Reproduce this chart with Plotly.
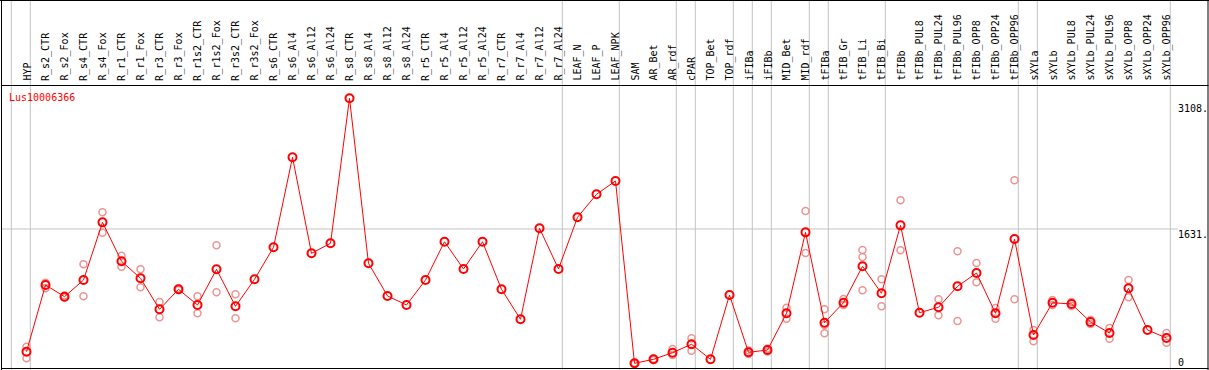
import plotly.graph_objects as go

gene_id = "Lus10006366"

categories = [
    "HYP", "R_s2_CTR", "R_s2_Fox", "R_s4_CTR", "R_s4_Fox", "R_r1_CTR", "R_r1_Fox",
    "R_r3_CTR", "R_r3_Fox", "R_r1s2_CTR", "R_r1s2_Fox", "R_r3s2_CTR", "R_r3s2_Fox",
    "R_s6_CTR", "R_s6_Al4", "R_s6_Al12", "R_s6_Al24", "R_s8_CTR", "R_s8_Al4",
    "R_s8_Al12", "R_s8_Al24", "R_r5_CTR", "R_r5_Al4", "R_r5_Al12", "R_r5_Al24",
    "R_r7_CTR", "R_r7_Al4", "R_r7_Al12", "R_r7_Al24", "LEAF_N", "LEAF_P", "LEAF_NPK",
    "SAM", "AR_Bet", "AR_rdf", "cPAR", "TOP_Bet", "TOP_rdf", "iFIBa", "iFIBb",
    "MID_Bet", "MID_rdf", "tFIBa", "tFIB_Gr", "tFIB_Li", "tFIB_Bi", "tFIBb",
    "tFIBb_PUL8", "tFIBb_PUL24", "tFIBb_PUL96", "tFIBb_OPP8", "tFIBb_OPP24",
    "tFIBb_OPP96", "sXYLa", "sXYLb", "sXYLb_PUL8", "sXYLb_PUL24", "sXYLb_PUL96",
    "sXYLb_OPP8", "sXYLb_OPP24", "sXYLb_OPP96",
]

mean_values = [
    244, 998, 866, 1054, 1706, 1266, 1074,
    723, 949, 772, 1175, 757, 1062,
    1424, 2441, 1356, 1469, 3108, 1243,
    874, 772, 1054, 1487, 1179, 1487,
    949, 610, 1639, 1179, 1763, 2023, 2173,
    113, 158, 233, 328, 158, 885, 237, 263,
    678, 1593, 572, 798, 1209, 904, 1672,
    685, 746, 983, 1133, 678,
    1518, 433, 798, 783, 580, 455,
    961, 489, 399,
]

replicates = {
    "HYP": [301, 170],
    "R_s2_CTR": [1024, 961],
    "R_s2_Fox": [880, 857],
    "R_s4_CTR": [1232, 870],
    "R_s4_Fox": [1819, 1589],
    "R_r1_CTR": [1329, 1205],
    "R_r1_Fox": [1175, 972],
    "R_r3_CTR": [806, 633],
    "R_r3_Fox": [958, 941],
    "R_r1s2_CTR": [870, 678],
    "R_r1s2_Fox": [1446, 915],
    "R_r3s2_CTR": [893, 622],
    "SAM": [105, 120],
    "AR_Bet": [150, 165],
    "AR_rdf": [275, 207],
    "cPAR": [396, 255],
    "iFIBa": [258, 218],
    "iFIBb": [280, 246],
    "MID_Bet": [741, 617],
    "MID_rdf": [1834, 1359],
    "tFIBa": [723, 452, 546],
    "tFIB_Gr": [840, 772],
    "tFIB_Li": [1393, 1314, 938],
    "tFIB_Bi": [1062, 757],
    "tFIBb": [1955, 1390],
    "tFIBb_PUL24": [836, 655],
    "tFIBb_PUL96": [1379, 591],
    "tFIBb_OPP8": [1246, 1028],
    "tFIBb_OPP24": [738, 617],
    "tFIBb_OPP96": [2181, 836],
    "sXYLa": [489, 362],
    "sXYLb": [828, 772],
    "sXYLb_PUL8": [806, 761],
    "sXYLb_PUL24": [602, 557],
    "sXYLb_PUL96": [512, 391],
    "sXYLb_OPP8": [1054, 859],
    "sXYLb_OPP96": [455, 346],
}

# index of the last category of each group (a separator follows it)
group_ends = [-1, 0, 28, 31, 34, 35, 37, 38, 39, 41, 42, 45, 52, 53, 60]

scale_ticks = [3108, 1631, 0]
scale_text = ["3108.", "1631.", "0"]

W, H = 1209, 370
X_RANGE = [-1.3947, 62.237]
Y_RANGE = [37.3, 4218.6]

idx = list(range(len(categories)))
rep_x, rep_y = [], []
for i, c in enumerate(categories):
    for v in replicates.get(c, []):
        rep_x.append(i)
        rep_y.append(v)

fig = go.Figure()
fig.add_trace(go.Scatter(
    x=rep_x, y=rep_y, mode="markers",
    marker=dict(symbol="circle-open", size=7, color="#ec9494",
                line=dict(width=1.5, color="#ec9494")),
    hoverinfo="skip", showlegend=False,
))
fig.add_trace(go.Scatter(
    x=idx, y=mean_values, mode="lines+markers",
    line=dict(color="#ff0000", width=1),
    marker=dict(symbol="circle-open", size=8, color="#ff0000",
                line=dict(width=2, color="#ff0000")),
    hoverinfo="skip", showlegend=False,
))

def py(px):
    return 1 - px / H

def pxx(px):
    return px / W

shapes = []
# group separators
for g in group_ends:
    shapes.append(dict(type="line", xref="x", yref="paper", x0=g + 0.2, x1=g + 0.2,
                       y0=0, y1=1, line=dict(color="#c4c4c4", width=1), layer="below"))
# reference line at middle tick
shapes.append(dict(type="line", xref="paper", yref="y", x0=pxx(2), x1=pxx(1178),
                   y0=scale_ticks[1], y1=scale_ticks[1],
                   line=dict(color="#c4c4c4", width=1), layer="below"))
# frame
blk = dict(color="#000000", width=1)
shapes += [
    dict(type="line", xref="paper", yref="paper", x0=0, x1=1, y0=py(0.5), y1=py(0.5), line=blk),
    dict(type="line", xref="paper", yref="paper", x0=pxx(1.5), x1=pxx(1208.5), y0=py(85.5), y1=py(85.5), line=blk),
    dict(type="line", xref="paper", yref="paper", x0=pxx(1.5), x1=pxx(1208.5), y0=py(368.5), y1=py(368.5), line=blk),
    dict(type="line", xref="paper", yref="paper", x0=pxx(1.5), x1=pxx(1.5), y0=0, y1=1, line=blk),
    dict(type="line", xref="paper", yref="paper", x0=pxx(1208), x1=pxx(1208), y0=0, y1=1, line=blk),
]

font = dict(family="DejaVu Sans Mono", size=10, color="#000000")
annotations = []
for i, c in enumerate(categories):
    annotations.append(dict(x=i, xref="x", y=py(83), yref="paper", text=c,
                            textangle=-90, xanchor="center", yanchor="bottom",
                            showarrow=False, font=font))
annotations.append(dict(x=pxx(7), xref="paper", y=py(97), yref="paper", text=gene_id,
                        xanchor="left", yanchor="middle", showarrow=False,
                        font=dict(family="DejaVu Sans Mono", size=10, color="#ff0000")))
label_px = [108, 234, 362]
for t, p in zip(scale_text, label_px):
    annotations.append(dict(x=pxx(1176), xref="paper", y=py(p), yref="paper", text=t,
                            xanchor="left", yanchor="middle", showarrow=False, font=font))

fig.update_layout(
    width=W, height=H,
    margin=dict(l=0, r=0, t=0, b=0),
    paper_bgcolor="#ffffff", plot_bgcolor="#ffffff",
    xaxis=dict(range=X_RANGE, showgrid=False, zeroline=False, showticklabels=False,
               showline=False, ticks="", fixedrange=True),
    yaxis=dict(range=Y_RANGE, showgrid=False, zeroline=False, showticklabels=False,
               showline=False, ticks="", fixedrange=True),
    shapes=shapes, annotations=annotations, hovermode=False,
)

fig.write_html(
    "out.html",
    config={"displayModeBar": False},
    post_script="document.body.style.margin='0';document.body.style.padding='0';document.body.style.overflow='hidden';",
)
